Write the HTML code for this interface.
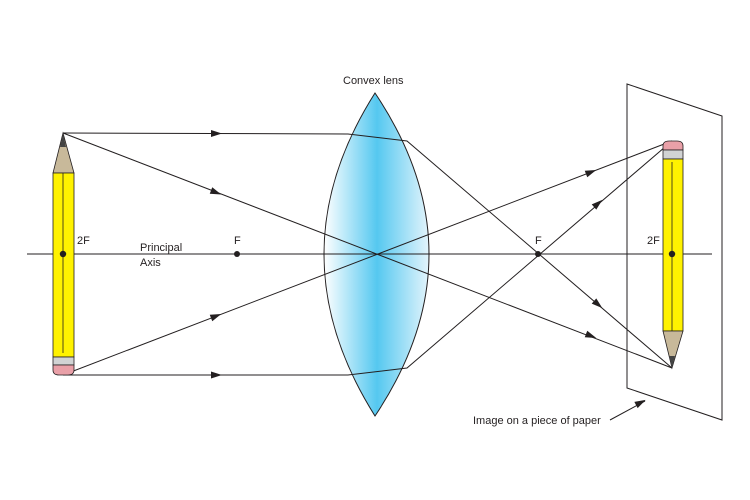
<!DOCTYPE html>
<html><head><style>body{margin:0;background:#fff}svg{display:block}text{font-family:"Liberation Sans",sans-serif;font-size:11px;fill:#231f20}</style></head><body>
<svg width="750" height="500" viewBox="0 0 750 500">
<defs>
<linearGradient id="g" x1="324" x2="430" y1="0" y2="0" gradientUnits="userSpaceOnUse">
<stop offset="0" stop-color="#ffffff"/><stop offset="0.5" stop-color="#55c8f0"/><stop offset="1" stop-color="#e6f5fc"/></linearGradient>
</defs>
<path d="M375,93 Q273,254 375,416 Q483,254 375,93Z" fill="url(#g)" stroke="#231f20" stroke-width="1"/>
<polygon points="627,84 722,116 722,420 627,388" fill="none" stroke="#231f20" stroke-width="1"/>
<line x1="27" y1="254" x2="712" y2="254" stroke="#231f20" stroke-width="1"/>
<g stroke="#231f20" stroke-width="1" fill="none">
<polyline points="63,133 348,134 407,141 672,368"/>
<polyline points="63,375 348,375 407,368 672,141"/>
<line x1="63" y1="133" x2="672" y2="368"/>
<line x1="63" y1="375" x2="672" y2="141"/>
<line x1="610" y1="420" x2="645" y2="401"/>
</g>
<g fill="#231f20">
<path d="M211,130L222,133.5L211,137z"/>
<path d="M211,371.5L222,375L211,378.5z"/>
<path d="M0,-3.5L11,0L0,3.5z" transform="translate(211,190.5) rotate(21.1)"/>
<path d="M0,-3.5L11,0L0,3.5z" transform="translate(586,334) rotate(21.1)"/>
<path d="M0,-3.5L11,0L0,3.5z" transform="translate(211,318) rotate(-21)"/>
<path d="M0,-3.5L11,0L0,3.5z" transform="translate(586,174) rotate(-21)"/>
<path d="M0,-3.5L11,0L0,3.5z" transform="translate(594,301) rotate(40.7)"/>
<path d="M0,-3.5L11,0L0,3.5z" transform="translate(594,207) rotate(-40.7)"/>
<path d="M0,-3.5L11,0L0,3.5z" transform="translate(636,405) rotate(-28)"/>
</g>
<g stroke="#231f20" stroke-width="0.8">
<polygon points="63,133 53,173 74,173" fill="#c8b99a"/>
<polygon points="63,133 60,147 66,147" fill="#444" stroke="none"/>
<rect x="53" y="173" width="21" height="184" fill="#fff200"/>
<line x1="63" y1="173" x2="63" y2="353"/>
<rect x="53" y="357" width="21" height="8" fill="#d1d3d4"/>
<path d="M53,365 L74,365 L74,370 Q74,375 68,375 L59,375 Q53,375 53,370Z" fill="#e9a0a8"/>
</g>
<g stroke="#231f20" stroke-width="0.8">
<path d="M663,150 L683,150 L683,146 Q683,141 677,141 L669,141 Q663,141 663,146Z" fill="#e9a0a8"/>
<rect x="663" y="150" width="20" height="9" fill="#d1d3d4"/>
<rect x="663" y="159" width="20" height="172" fill="#fff200"/>
<line x1="672" y1="162" x2="672" y2="331"/>
<polygon points="663,331 683,331 672,368" fill="#c8b99a"/>
<polygon points="669,356 675,356 672,368" fill="#444" stroke="none"/>
</g>
<g fill="#231f20"><circle cx="63" cy="254" r="3.2"/><circle cx="237" cy="254" r="3"/><circle cx="538" cy="254" r="3"/><circle cx="672" cy="254" r="3.2"/></g>
<text x="343" y="84">Convex lens</text>
<text x="77" y="244">2F</text>
<text x="140" y="251">Principal</text>
<text x="140" y="266">Axis</text>
<text x="234" y="244">F</text>
<text x="535" y="244">F</text>
<text x="647" y="244">2F</text>
<text x="473" y="424">Image on a piece of paper</text>
</svg>
</body></html>
